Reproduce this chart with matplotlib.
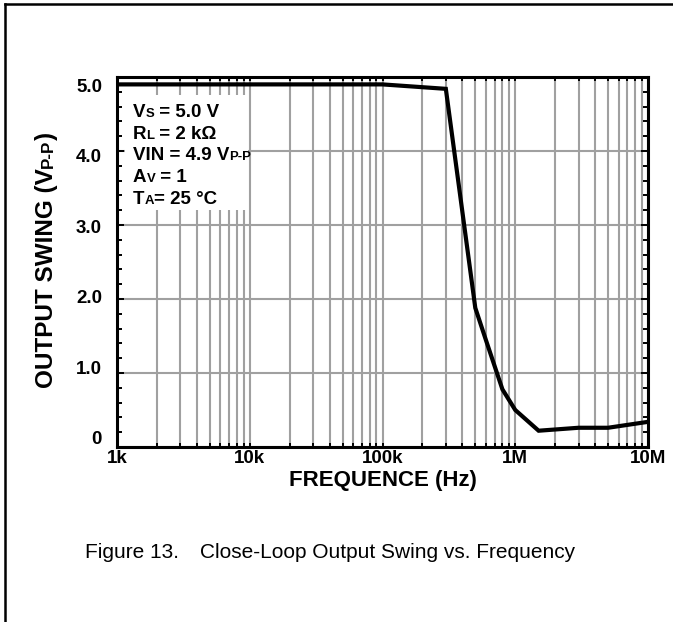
import numpy as np
import matplotlib
matplotlib.use("Agg")
import matplotlib.pyplot as plt
from matplotlib import transforms
from matplotlib.lines import Line2D
from matplotlib.patches import Rectangle
from matplotlib.ticker import FixedLocator, LogLocator, MultipleLocator, NullFormatter

plt.rcParams['font.family'] = ['Liberation Sans', 'DejaVu Sans']

# data
freq_hz = [1e3, 1e5, 3e5, 5e5, 6e5, 8e5, 1e6, 1.5e6, 3e6, 5e6, 1e7]
swing_vpp = [4.9, 4.9, 4.84, 1.88, 1.45, 0.78, 0.5, 0.22, 0.26, 0.26, 0.34]

xtick_vals = [1e3, 1e4, 1e5, 1e6, 1e7]
xtick_labels = ['1k', '10k', '100k', '1M', '10M']
ytick_vals = [0, 1, 2, 3, 4, 5]
ytick_labels = ['0', '1.0', '2.0', '3.0', '4.0', '5.0']

# test conditions, (text, relative size) pieces
conditions = [
    [('V', 1), ('S', 0.7), (' = 5.0 V', 1)],
    [('R', 1), ('L', 0.7), (' = 2 k\u03a9', 1)],
    [('VIN = 4.9 V', 1), ('P-P', 0.7)],
    [('A', 1), ('V', 0.7), (' = 1', 1)],
    [('T', 1), ('A', 0.7), ('= 25 \u00b0C', 1)],
]
ylabel_parts = [('OUTPUT SWING (V', 1), ('P-P', 0.7), (')', 1)]
caption_num = 'Figure 13.'
caption_text = 'Close-Loop Output Swing vs. Frequency'

W, H = 673, 622
fig = plt.figure(figsize=(W / 100, H / 100), dpi=100)
ax = fig.add_axes([117 / W, 1 - 447 / H, 531 / W, 370 / H])

GRID = '#a0a0a0'
ax.set_xscale('log')
ax.set_xlim(1e3, 1e7)
ax.set_ylim(0, 5)
ax.set_axisbelow(True)

ax.xaxis.set_major_locator(FixedLocator(xtick_vals))
ax.set_xticklabels(xtick_labels)
ax.xaxis.set_minor_locator(LogLocator(base=10, subs=np.arange(2, 10)))
ax.xaxis.set_minor_formatter(NullFormatter())
ax.yaxis.set_major_locator(FixedLocator(ytick_vals))
ax.set_yticklabels(ytick_labels)
ax.yaxis.set_minor_locator(MultipleLocator(0.2))

ax.grid(True, which='major', axis='both', color=GRID, lw=1.5)
ax.grid(True, which='minor', axis='x', color=GRID, lw=1.5)

ax.tick_params(axis='both', which='both', direction='in', top=True, right=True,
               width=1.4, color='black')
ax.tick_params(axis='x', which='both', length=3, pad=2)
ax.tick_params(axis='y', which='major', length=5, pad=10.8)
ax.tick_params(axis='y', which='minor', length=3.5)
for lab in ax.get_xticklabels() + ax.get_yticklabels():
    lab.set_fontsize(13.5)
    lab.set_fontweight('bold')

for sp in ax.spines.values():
    sp.set_linewidth(2.2)

# the y tick labels sit pulled towards the middle in the original
for v, lab in zip(ytick_vals, ax.get_yticklabels()):
    down_px = -9 + 17 * v / 5
    lab.set_transform(lab.get_transform() +
                      transforms.ScaledTranslation(0, -down_px / 100, fig.dpi_scale_trans))

ax.plot(freq_hz, swing_vpp, color='black', lw=3, zorder=3, solid_joinstyle='miter')

# white box behind the conditions text
ax.add_patch(Rectangle((8 / 531, (447 - 210) / 370), (248 - 125) / 531, 115 / 370,
                       transform=ax.transAxes, facecolor='white', edgecolor='none', zorder=1))

ax.set_xlabel('FREQUENCE (Hz)', fontsize=16, fontweight='bold', va='top')
ax.xaxis.set_label_coords(0.5, (447 - 470) / 370)

renderer = fig.canvas.get_renderer()


def rich_text(x, y, parts, size, weight='bold', rotation=0, center=False):
    # place pieces of text one after another, in figure pixels from the top-left
    texts = [fig.text(0, 0, s, fontsize=size * k, fontweight=weight, rotation=rotation,
                      ha='left', va='baseline', rotation_mode='anchor',
                      transform=transforms.IdentityTransform()) for s, k in parts]
    lengths = []
    for t in texts:
        bb = t.get_window_extent(renderer)
        lengths.append(bb.height if rotation else bb.width)
    pos = -sum(lengths) / 2 if center else 0
    for t, L in zip(texts, lengths):
        if rotation:
            t.set_position((x, H - y + pos))
        else:
            t.set_position((x + pos, H - y))
        pos += L


for i, parts in enumerate(conditions):
    rich_text(133, 117 + i * 21.75, parts, 13.5)

rich_text(53, 260, ylabel_parts, 17.5, rotation=90, center=True)

fig.text(85 / W, 1 - 553 / H, caption_num, fontsize=15, va='center', ha='left')
fig.text(200 / W, 1 - 553 / H, caption_text, fontsize=15, va='center', ha='left')

# page frame: top and left rules
fig.add_artist(Line2D([5, W], [H - 4, H - 4], transform=transforms.IdentityTransform(),
                      color='black', lw=1.8))
fig.add_artist(Line2D([5, 5], [0, H - 4], transform=transforms.IdentityTransform(),
                      color='black', lw=1.8))

fig.savefig('out.png', dpi=100)
